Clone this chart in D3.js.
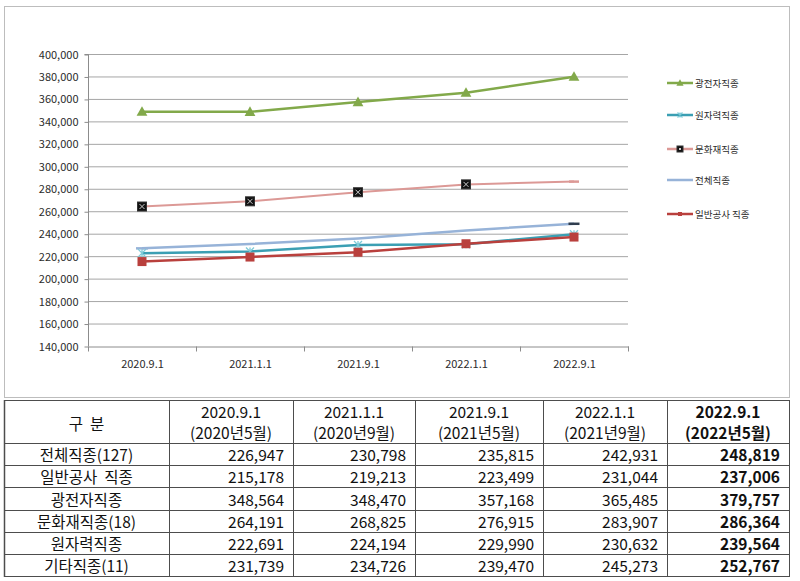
<!DOCTYPE html>
<html><head><meta charset="utf-8">
<script src="https://cdn.jsdelivr.net/npm/d3@7/dist/d3.min.js"></script>
<style>
html,body{margin:0;padding:0;background:#fff;}
svg{display:block;font-family:"Noto Sans CJK KR","Noto Sans",sans-serif;}
</style></head>
<body><svg id="c" width="800" height="581"></svg>
<script>
// ---- data ----
const categories = ["2020.9.1","2021.1.1","2021.9.1","2022.1.1","2022.9.1"];
const subLabels = ["(2020년5월)","(2020년9월)","(2021년5월)","(2021년9월)","(2022년5월)"];
const yTicks = [140000,160000,180000,200000,220000,240000,260000,280000,300000,320000,340000,360000,380000,400000];
const total      = [226947,230798,235815,242931,248819];
const general    = [215178,219213,223499,231044,237006];
const electronic = [348564,348470,357168,365485,379757];
const heritage   = [264191,268825,276915,283907,286364];
const nuclear    = [222691,224194,229990,230632,239564];
const others     = [231739,234726,239470,245273,252767];
const legendNames = ["광전자직종","원자력직종","문화재직종","전체직종","일반공사 직종"];
const tableRowNames = ["전체직종(127)","일반공사  직종","광전자직종","문화재직종(18)","원자력직종","기타직종(11)"];
const tableRows = [total, general, electronic, heritage, nuclear, others];

const svg = d3.select("#c");
const fmt = d3.format(",");

// chart frame
svg.append("rect").attr("x",4.5).attr("y",6.5).attr("width",785).attr("height",391)
  .attr("fill","#fff").attr("stroke","#bdbdbd").attr("stroke-width",1);

const x = d3.scaleBand().domain(categories).range([88,628]);
const y = d3.scaleLinear().domain([140000,400000]).range([346,54]);
const cx = c => x(c) + x.bandwidth()/2;

// gridlines
svg.append("g").selectAll("line").data(yTicks.filter(t=>t>140000)).join("line")
  .attr("x1",88).attr("x2",628).attr("y1",d=>y(d)+0.5).attr("y2",d=>y(d)+0.5)
  .attr("stroke","#a6a6a6").attr("stroke-width",1);

// y axis
const ya = svg.append("g").attr("transform","translate(88.5,0.5)")
  .call(d3.axisLeft(y).tickValues(yTicks).tickFormat(fmt).tickSize(4).tickPadding(6));
ya.select(".domain").attr("stroke","#8c8c8c").attr("d","M-4,"+y(400000)+"H0V"+y(140000));
ya.selectAll(".tick line").attr("stroke","#8c8c8c");
ya.selectAll("text").attr("fill","#2b2b2b").style("font-size","11px").style("font-family","'Noto Sans CJK KR'");

// x axis
const xa = svg.append("g").attr("transform","translate(0.5,"+(y(140000)+0.5)+")")
  .call(d3.axisBottom(x).tickSize(0).tickPadding(14));
xa.select(".domain").attr("stroke","#8c8c8c");
xa.selectAll("text").attr("fill","#2b2b2b").style("font-size","11px").style("font-family","'Noto Sans CJK KR'");
xa.append("g").selectAll("line").data(categories.slice(1)).join("line")
  .attr("x1",d=>x(d)).attr("x2",d=>x(d)).attr("y1",0).attr("y2",5).attr("stroke","#8c8c8c");
xa.append("line").attr("x1",628).attr("x2",628).attr("y1",0).attr("y2",5).attr("stroke","#8c8c8c");
xa.append("line").attr("x1",88).attr("x2",88).attr("y1",0).attr("y2",5).attr("stroke","#8c8c8c");

const line = d3.line().x((d,i)=>cx(categories[i])).y(d=>y(d));

const C = {green:"#82a94a", teal:"#3b9fb3", pink:"#dc9996", blue:"#97b3d8", red:"#b9403d"};

// marker drawers
function tri(g,px,py,s){ g.append("path").attr("d",`M${px},${py-s*0.62}L${px+s*0.6},${py+s*0.45}L${px-s*0.6},${py+s*0.45}Z`).attr("fill",C.green); }
function star(g,px,py,s,col){
  const h=s/2;
  g.append("path").attr("d",`M${px-h},${py-h}L${px+h},${py+h}M${px+h},${py-h}L${px-h},${py+h}M${px},${py-h}V${py+h}`)
   .attr("stroke",col||"#7fcbd8").attr("stroke-width",1.3).attr("fill","none");
}
function xsq(g,px,py,s){
  const h=s/2;
  g.append("rect").attr("x",px-h).attr("y",py-h).attr("width",s).attr("height",s).attr("fill","#111").attr("stroke","#333");
  g.append("path").attr("d",`M${px-h+2},${py-h+2}L${px+h-2},${py+h-2}M${px+h-2},${py-h+2}L${px-h+2},${py+h-2}`)
   .attr("stroke","#ccc").attr("stroke-width",1);
}
function sq(g,px,py,s){ g.append("rect").attr("x",px-s/2).attr("y",py-s/2).attr("width",s).attr("height",s).attr("fill",C.red); }
function dash(g,px,py,w,col){ g.append("line").attr("x1",px-w/2).attr("x2",px+w/2).attr("y1",py).attr("y2",py).attr("stroke",col).attr("stroke-width",2.5); }

const plot = svg.append("g");
// 전체직종
plot.append("path").datum(total).attr("d",line).attr("fill","none").attr("stroke",C.blue).attr("stroke-width",2.5);
dash(plot,cx(categories[0]),y(total[0]),12,C.blue);
dash(plot,cx(categories[4]),y(total[4]),11,"#2f3d4e");
// 원자력직종
plot.append("path").datum(nuclear).attr("d",line).attr("fill","none").attr("stroke",C.teal).attr("stroke-width",2.5);
nuclear.forEach((v,i)=>star(plot,cx(categories[i]),y(v),8));
// 문화재직종
plot.append("path").datum(heritage).attr("d",line).attr("fill","none").attr("stroke",C.pink).attr("stroke-width",2);
dash(plot,cx(categories[4]),y(heritage[4]),10,C.pink);
heritage.slice(0,4).forEach((v,i)=>xsq(plot,cx(categories[i]),y(v),9));
// 광전자직종
plot.append("path").datum(electronic).attr("d",line).attr("fill","none").attr("stroke",C.green).attr("stroke-width",2.5);
electronic.forEach((v,i)=>tri(plot,cx(categories[i]),y(v),9));
// 일반공사 직종
plot.append("path").datum(general).attr("d",line).attr("fill","none").attr("stroke",C.red).attr("stroke-width",2.5);
general.forEach((v,i)=>sq(plot,cx(categories[i]),y(v),9));

// legend
const legY = [83,115,149,180,214];
const legCols = [C.green,C.teal,C.pink,C.blue,C.red];
const leg = svg.append("g");
legendNames.forEach((n,i)=>{
  const yy = legY[i];
  leg.append("line").attr("x1",667).attr("x2",693).attr("y1",yy).attr("y2",yy).attr("stroke",legCols[i]).attr("stroke-width",2.5);
  if(i===0) tri(leg,680,yy,6);
  if(i===1) star(leg,680,yy,5);
  if(i===2) xsq(leg,680,yy,6);
  if(i===4) sq(leg,680,yy,4);
  leg.append("text").attr("x",695).attr("y",yy).attr("dominant-baseline","central")
    .attr("fill","#2b2b2b").style("font-size","9.5px").text(n);
});

// ---- table ----
const colX = [4,169,293,415,543,667,789];
const headTop = 400, headBot = 443, rowH = 22.2;
const rowY = d3.range(7).map(i=>headBot + i*rowH);
const tb = svg.append("g");
const lc = "#4d4d4d";
[headTop].concat(rowY).forEach(yy=>{
  tb.append("line").attr("x1",colX[0]).attr("x2",colX[6]).attr("y1",Math.round(yy)+0.5).attr("y2",Math.round(yy)+0.5).attr("stroke",lc).attr("stroke-width",1);
});
colX.forEach((xx,i)=>{
  tb.append("line").attr("x1",xx+0.5).attr("x2",xx+0.5).attr("y1",headTop).attr("y2",Math.round(rowY[6])+1).attr("stroke",lc).attr("stroke-width",(i===0)?1.5:1);
});
const tf = "15.5px";
tb.append("text").attr("x",(colX[0]+colX[1])/2).attr("y",(headTop+headBot)/2+1).attr("text-anchor","middle")
  .attr("dominant-baseline","central").attr("fill","#111").style("font-size",tf).attr("xml:space","preserve").text("구  분");
categories.forEach((c,i)=>{
  const mx = (colX[i+1]+colX[i+2])/2;
  const b = i===4 ? "bold":"normal";
  tb.append("text").attr("x",mx).attr("y",411).attr("text-anchor","middle").attr("dominant-baseline","central")
    .attr("fill","#111").style("font-size",tf).style("font-weight",b).text(c);
  tb.append("text").attr("x",mx).attr("y",432).attr("text-anchor","middle").attr("dominant-baseline","central")
    .attr("fill","#111").style("font-size",tf).style("font-weight",b).text(subLabels[i]);
});
tableRows.forEach((vals,r)=>{
  const cy = rowY[r] + rowH/2;
  tb.append("text").attr("x",(colX[0]+colX[1])/2).attr("y",cy).attr("text-anchor","middle").attr("dominant-baseline","central")
    .attr("fill","#111").style("font-size",tf).attr("xml:space","preserve").text(tableRowNames[r]);
  vals.forEach((v,i)=>{
    tb.append("text").attr("x",colX[i+2]-9).attr("y",cy).attr("text-anchor","end").attr("dominant-baseline","central")
      .attr("fill","#111").style("font-size",tf).style("font-weight",i===4?"bold":"normal").text(fmt(v));
  });
});
</script></body></html>
